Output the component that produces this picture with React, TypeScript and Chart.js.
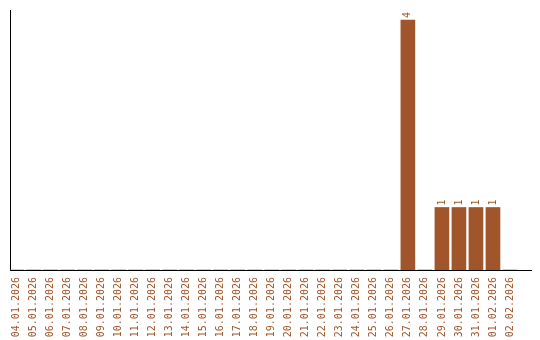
import React, { useEffect, useRef } from "react";
import { Chart, registerables } from "chart.js";

Chart.register(...registerables);

const categories = [
  "04.01.2026", "05.01.2026", "06.01.2026", "07.01.2026", "08.01.2026",
  "09.01.2026", "10.01.2026", "11.01.2026", "12.01.2026", "13.01.2026",
  "14.01.2026", "15.01.2026", "16.01.2026", "17.01.2026", "18.01.2026",
  "19.01.2026", "20.01.2026", "21.01.2026", "22.01.2026", "23.01.2026",
  "24.01.2026", "25.01.2026", "26.01.2026", "27.01.2026", "28.01.2026",
  "29.01.2026", "30.01.2026", "31.01.2026", "01.02.2026", "02.02.2026",
];

const counts = [
  0, 0, 0, 0, 0,
  0, 0, 0, 0, 0,
  0, 0, 0, 0, 0,
  0, 0, 0, 0, 0,
  0, 0, 0, 4, 0,
  1, 1, 1, 1, 0,
];

const BROWN = "#A0552A";
const FONT = "'DejaVu Sans Mono', monospace";

const valueLabels = {
  id: "valueLabels",
  afterDatasetsDraw(chart: any) {
    const ctx = chart.ctx;
    const meta = chart.getDatasetMeta(0);
    ctx.save();
    ctx.fillStyle = BROWN;
    ctx.font = `10px ${FONT}`;
    ctx.textAlign = "left";
    ctx.textBaseline = "middle";
    meta.data.forEach((bar: any, i: number) => {
      const v = counts[i];
      if (!v) return;
      ctx.save();
      ctx.translate(bar.x, bar.y - 2);
      ctx.rotate(-Math.PI / 2);
      ctx.fillText(String(v), 0, 0);
      ctx.restore();
    });
    ctx.restore();
  },
};

export default function App() {
  const ref = useRef<HTMLCanvasElement | null>(null);

  useEffect(() => {
    if (!ref.current) return;
    const chart = new Chart(ref.current, {
      type: "bar",
      data: {
        datasets: [
          {
            data: counts.map((v, i) => ({ x: i, y: v })),
            backgroundColor: BROWN,
            borderWidth: 0,
            barThickness: 14,
          },
        ],
      },
      options: {
        animation: false,
        responsive: true,
        maintainAspectRatio: false,
        layout: { padding: { left: 0, right: 9, top: 10, bottom: 0 } },
        plugins: { legend: { display: false }, tooltip: { enabled: false } },
        scales: {
          x: {
            type: "linear",
            offset: false,
            min: -0.382,
            max: 30.235,
            grid: { display: false, drawTicks: false, offset: false },
            border: { display: true, color: "#000", width: 1 },
            afterBuildTicks: (scale: any) => {
              scale.ticks = categories.map((_, i) => ({ value: i }));
            },
            afterFit: (scale: any) => {
              scale.height = 70;
            },
            ticks: {
              autoSkip: false,
              minRotation: 90,
              maxRotation: 90,
              padding: 7,
              color: BROWN,
              font: { family: FONT, size: 10 },
              callback: (value: any) => categories[Math.round(Number(value))] ?? "",
            },
          },
          y: {
            min: 0,
            max: 4.16,
            grid: { display: false, drawTicks: false },
            border: { display: true, color: "#000", width: 1 },
            ticks: { display: false },
            afterFit: (scale: any) => {
              scale.width = 10;
            },
          },
        },
      },
      plugins: [valueLabels],
    });
    return () => chart.destroy();
  }, []);

  return (
    <div style={{ position: "fixed", left: 0, top: 0, width: 540, height: 340, background: "#fff" }}>
      <canvas ref={ref} />
    </div>
  );
}
